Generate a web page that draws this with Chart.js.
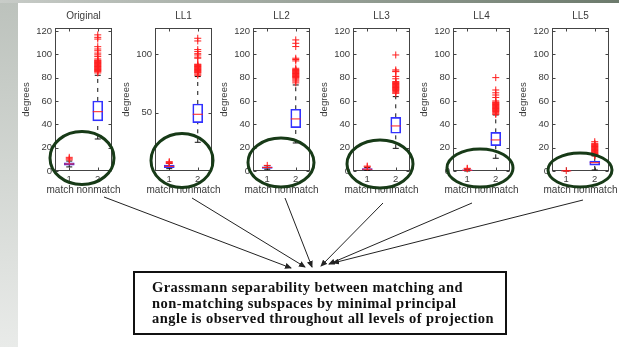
<!DOCTYPE html>
<html>
<head>
<meta charset="utf-8">
<script src="https://cdn.jsdelivr.net/npm/chart.js@4.4.0/dist/chart.umd.min.js"></script>
<style>
html, body { margin: 0; padding: 0; }
body { width: 619px; height: 347px; position: relative; overflow: hidden; background: #fff;
       font-family: "Liberation Sans", Arial, sans-serif; }
#leftband { position: absolute; left: 0; top: 0; width: 18px; height: 347px;
            background: linear-gradient(#bcc2bc, #e9ebe9); }
#topband { position: absolute; left: 0; top: 0; width: 619px; height: 3px;
           background: linear-gradient(to right, #c8ccc8, #6c7a6c); }
.panel { position: absolute; top: 0; }
#overlay { position: absolute; left: 0; top: 0; }
#note { position: absolute; left: 133px; top: 271px; width: 374px; height: 64px; box-sizing: border-box;
        border: 2px solid #111; padding: 7px 0 0 17px;
        font-family: "Liberation Serif", "Times New Roman", serif; font-weight: bold;
        font-size: 14.5px; line-height: 15.5px; letter-spacing: 0.45px; color: #111; white-space: nowrap; }
</style>
</head>
<body>
<div id="leftband"></div>
<div id="topband"></div>

<script>
// box plot values: [lower whisker, q1, median, q3, upper whisker]
const titles = ['Original', 'LL1', 'LL2', 'LL3', 'LL4', 'LL5'];
const categories = ['1', '2'];
const xLabel = 'match nonmatch';
const yLabel = 'degrees';

const matchStats = [
    [3.5, 5.1, 6, 7.1, 8.5],
    [2, 2.9, 4, 5.1, 6.5],
    [1.5, 2.3, 3, 3.6, 4.5],
    [0.5, 1, 1.5, 2, 3],
    [0, 0.3, 0.6, 0.9, 1.5],
    [0, 0, 0.05, 0.1, 0.2]
];
const nonmatchStats = [
    [27.4, 43, 50.8, 60, 82],
    [24.6, 41.4, 48.6, 57.4, 80.9],
    [24, 37.1, 44.6, 52.9, 73.7],
    [19.4, 32.3, 38.6, 46, 63.7],
    [10.9, 21.7, 26.6, 33.1, 48],
    [0.9, 5.1, 7.1, 8.6, 12.9]
];
const matchOutliers = [
    [9.5, 10.5, 11.7],
    [6.5, 7.2, 8],
    [4.8],
    [3.5, 4.2],
    [1.8, 2.3],
    [0.3]
];
const nonmatchOutliers = [
    [116.6, 114.5, 113, 106.5, 104.5, 103, 101, 99.5, 98, 96, 95, 94.5, 94, 93.5, 93, 92.5, 92, 91.5, 91,
     90.5, 90, 89.5, 89, 88.5, 88, 87.5, 87, 86.5, 86, 85.5, 85, 84],
    [113.7, 111.4, 104, 102.3, 100.5, 99.4, 97.5, 96.6, 91.5, 91, 90.5, 90, 89.5, 89, 88.5, 88, 87.5, 87,
     86.5, 86, 85.5, 85, 84.5, 84, 83, 82],
    [112.3, 109.4, 106.6, 96.6, 95.5, 94.3, 88, 87, 86.5, 86, 85.5, 85, 84.5, 84, 83.5, 83, 82.5, 82, 81.5,
     81, 80.5, 80, 79, 78, 77, 75.5],
    [99.4, 86.6, 85.5, 85.1, 81, 79, 76.6, 76, 75.5, 75, 74.5, 74, 73.5, 73, 72.5, 72, 71.5, 71, 70.5, 70,
     69.5, 69, 68, 67, 66.6],
    [80, 69.4, 67, 65.1, 63, 60, 59, 58.5, 58, 57.5, 57, 56.5, 56, 55.5, 55, 54.5, 54, 53.5, 53, 52.5, 52,
     51.5, 51, 50, 49, 48.6],
    [25.1, 23.7, 23, 22.5, 22, 21.5, 21, 20.5, 20, 19.5, 19, 18.5, 18, 17.5, 17, 16.5, 16, 15.5, 15, 14.5,
     14, 13.5, 13.1]
];
const yTickValues = [
    [0, 20, 40, 60, 80, 100, 120],
    [50, 100],
    [0, 20, 40, 60, 80, 100, 120],
    [0, 20, 40, 60, 80, 100, 120],
    [0, 20, 40, 60, 80, 100, 120],
    [0, 20, 40, 60, 80, 100, 120]
];
const yMax = 122.5;

// layout: left edge of each axes box on the page
const panelLeft = [55, 155, 253, 353, 453, 552];
const textColor = '#3a3a3a';
const boxBlue = 'rgb(50,50,255)';
const red = 'rgb(255,30,30)';
const sans = '"Liberation Sans", Arial, sans-serif';

// axes box with inward ticks, like matlab, plus title and xlabel centred on the box
const framePlugin = {
    id: 'frame',
    beforeDatasetsDraw(chart) {
        const a = chart.chartArea, ctx = chart.ctx;
        const l = Math.round(a.left) + 0.5, r = Math.round(a.right) - 0.5;
        const t = Math.round(a.top) + 0.5, b = Math.round(a.bottom) - 0.5;
        ctx.save();
        ctx.strokeStyle = '#444';
        ctx.lineWidth = 1;
        ctx.strokeRect(l, t, r - l, b - t);
        ctx.beginPath();
        chart.scales.y.ticks.forEach(tk => {
            const y = Math.round(chart.scales.y.getPixelForValue(tk.value)) + 0.5;
            ctx.moveTo(l, y); ctx.lineTo(l + 3, y);
            ctx.moveTo(r, y); ctx.lineTo(r - 3, y);
        });
        categories.forEach((c, k) => {
            const x = Math.round(chart.scales.x.getPixelForTick(k)) + 0.5;
            ctx.moveTo(x, b); ctx.lineTo(x, b - 3);
            ctx.moveTo(x, t); ctx.lineTo(x, t + 3);
        });
        ctx.stroke();
        ctx.restore();
    },
    afterDraw(chart) {
        const a = chart.chartArea, ctx = chart.ctx;
        const cx = (a.left + a.right) / 2;
        ctx.save();
        ctx.fillStyle = textColor;
        ctx.font = '10px ' + sans;
        ctx.textAlign = 'center';
        ctx.textBaseline = 'middle';
        ctx.fillText(chart.options.plugins.frame.title, cx, 16);
        ctx.fillText(xLabel, cx, 190);
        ctx.restore();
    }
};

function pts(cat, values) {
    return values.map(v => ({x: cat, y: v}));
}

function makePanel(i) {
    const canvas = document.createElement('canvas');
    canvas.width = 114;
    canvas.height = 196;
    canvas.className = 'panel';
    canvas.style.left = (panelLeft[i] - 40) + 'px';
    document.body.appendChild(canvas);

    const m = matchStats[i], n = nonmatchStats[i];
    new Chart(canvas, {
        type: 'bar',
        data: {
            labels: categories,
            datasets: [
                {   // medians
                    type: 'line', showLine: false, clip: false,
                    data: [{x: '1', y: m[2]}, {x: '2', y: n[2]}],
                    pointStyle: 'line', pointRadius: 5, pointBorderWidth: 1,
                    pointBorderColor: red, borderColor: red
                },
                {   // outliers
                    type: 'line', showLine: false, clip: false,
                    data: pts('1', matchOutliers[i]).concat(pts('2', nonmatchOutliers[i])),
                    pointStyle: 'cross', pointRadius: 3.5, pointBorderWidth: 1,
                    pointBorderColor: red, borderColor: red
                },
                {   // whisker caps
                    type: 'line', showLine: false, clip: false,
                    data: [{x: '1', y: m[0]}, {x: '1', y: m[4]}, {x: '2', y: n[0]}, {x: '2', y: n[4]}],
                    pointStyle: 'line', pointRadius: 3, pointBorderWidth: 1,
                    pointBorderColor: '#111', borderColor: '#111'
                },
                {   // boxes
                    type: 'bar',
                    data: [[m[1], m[3]], [n[1], n[3]]],
                    backgroundColor: 'rgba(0,0,0,0)',
                    borderColor: boxBlue, borderWidth: 1, borderSkipped: false,
                    barThickness: 10
                },
                {   // whiskers, match
                    type: 'line', spanGaps: false, pointRadius: 0,
                    data: [{x: '1', y: m[0]}, {x: '1', y: m[1]}, {x: '1', y: null}, {x: '1', y: m[3]}, {x: '1', y: m[4]}],
                    borderColor: '#111', borderWidth: 1, borderDash: [4, 5]
                },
                {   // whiskers, nonmatch
                    type: 'line', spanGaps: false, pointRadius: 0,
                    data: [{x: '2', y: n[0]}, {x: '2', y: n[1]}, {x: '2', y: null}, {x: '2', y: n[3]}, {x: '2', y: n[4]}],
                    borderColor: '#111', borderWidth: 1, borderDash: [4, 5]
                }
            ]
        },
        options: {
            responsive: false,
            animation: false,
            devicePixelRatio: 1,
            layout: {padding: {left: 0, right: 17, top: 28, bottom: 0}},
            plugins: {
                legend: {display: false},
                tooltip: {enabled: false},
                title: {display: false},
                frame: {title: titles[i]}
            },
            scales: {
                x: {
                    type: 'category', offset: true,
                    grid: {display: false, drawTicks: false}, border: {display: false},
                    ticks: {color: textColor, padding: 3, maxRotation: 0, autoSkip: false,
                            font: {size: 9.5, family: sans}},
                    afterFit(s) { s.height = 25; }
                },
                y: {
                    min: 0, max: yMax,
                    grid: {display: false, drawTicks: false}, border: {display: false},
                    afterBuildTicks(s) { s.ticks = yTickValues[i].map(v => ({value: v})); },
                    ticks: {color: textColor, padding: 3, font: {size: 9.5, family: sans}},
                    title: {display: true, text: yLabel, color: textColor, padding: {top: 6, bottom: 0},
                            font: {size: 9.5, family: sans}},
                    afterFit(s) { s.width = 40; }
                }
            }
        },
        plugins: [framePlugin]
    });
}

for (let i = 0; i < titles.length; i++) makePanel(i);
</script>

<svg id="overlay" width="619" height="347" xmlns="http://www.w3.org/2000/svg">
  <defs>
    <marker id="ah" markerWidth="7" markerHeight="6" refX="6" refY="3" orient="auto" markerUnits="userSpaceOnUse">
      <path d="M0,0 L7,3 L0,6 z" fill="#222"/>
    </marker>
  </defs>
  <g fill="none" stroke="#173a17" stroke-width="3">
    <ellipse cx="82" cy="158" rx="32" ry="26.5"/>
    <ellipse cx="182" cy="160.5" rx="31" ry="27"/>
    <ellipse cx="281" cy="162.5" rx="33" ry="24.5"/>
    <ellipse cx="380" cy="164" rx="33" ry="24"/>
    <ellipse cx="480" cy="168" rx="33" ry="19"/>
    <ellipse cx="580" cy="170" rx="32" ry="17"/>
  </g>
  <g stroke="#222" stroke-width="1" marker-end="url(#ah)">
    <line x1="104" y1="197" x2="291" y2="268"/>
    <line x1="192" y1="198" x2="305" y2="267"/>
    <line x1="285" y1="198" x2="312" y2="267"/>
    <line x1="383" y1="203" x2="321" y2="266"/>
    <line x1="472" y1="203" x2="329" y2="264"/>
    <line x1="583" y1="200" x2="333" y2="263"/>
  </g>
</svg>

<div id="note">Grassmann separability between matching and<br>non-matching subspaces by minimal principal<br>angle is observed throughout all levels of projection</div>
</body>
</html>
